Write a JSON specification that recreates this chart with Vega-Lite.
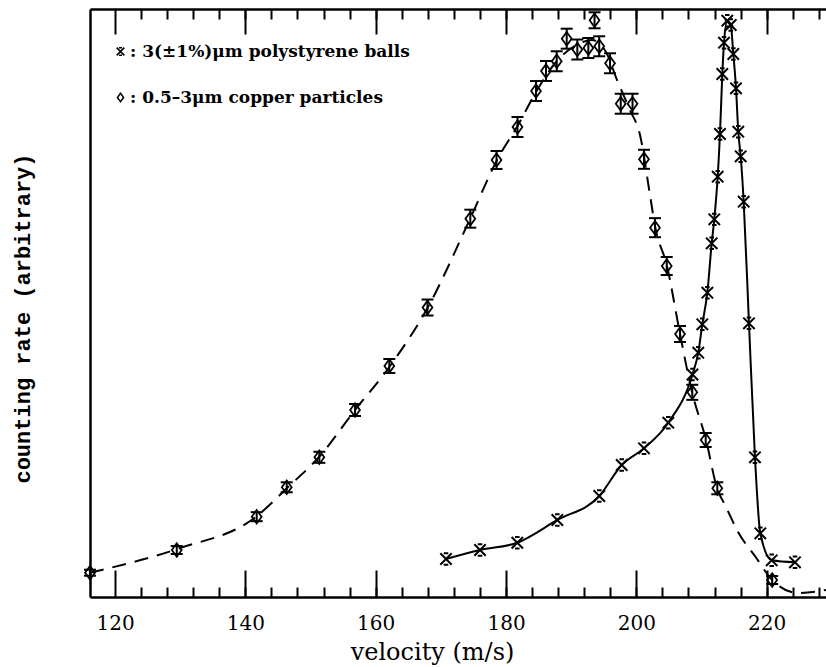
{
  "$schema": "https://vega.github.io/schema/vega-lite/v6.json",
  "width": 736,
  "height": 588,
  "autosize": {"type": "none"},
  "padding": {"left": 90, "top": 9, "right": 0, "bottom": 70},
  "background": "white",
  "config": {
    "view": {"stroke": null},
    "axis": {"grid": false, "domainColor": "black", "tickColor": "black", "labelColor": "black", "titleColor": "black", "domainWidth": 2.5, "tickWidth": 2},
    "axisY": {"orient": "left", "ticks": false, "labels": false, "domain": true,
      "titleFont": "Liberation Mono", "titleFontSize": 22, "titleFontWeight": "bold", "titlePadding": 56, "titleY": 309}
  },
  "datasets": {
    "copper": [
      {"v": 116.16, "y": 4.13, "lo": 3.62, "hi": 4.64},
      {"v": 129.47, "y": 7.99, "lo": 7.31, "hi": 8.67},
      {"v": 141.74, "y": 13.66, "lo": 12.89, "hi": 14.43},
      {"v": 146.35, "y": 18.66, "lo": 17.81, "hi": 19.51},
      {"v": 151.35, "y": 23.76, "lo": 22.82, "hi": 24.70},
      {"v": 156.83, "y": 31.80, "lo": 30.78, "hi": 32.82},
      {"v": 162.09, "y": 39.29, "lo": 38.10, "hi": 40.48},
      {"v": 167.95, "y": 49.23, "lo": 47.87, "hi": 50.59},
      {"v": 174.52, "y": 64.34, "lo": 62.81, "hi": 65.87},
      {"v": 178.54, "y": 74.32, "lo": 72.79, "hi": 75.85},
      {"v": 181.76, "y": 79.93, "lo": 78.23, "hi": 81.63},
      {"v": 184.60, "y": 86.05, "lo": 84.35, "hi": 87.75},
      {"v": 186.13, "y": 89.46, "lo": 87.76, "hi": 91.16},
      {"v": 187.78, "y": 91.11, "lo": 89.41, "hi": 92.81},
      {"v": 189.31, "y": 94.95, "lo": 93.25, "hi": 96.65},
      {"v": 190.94, "y": 93.11, "lo": 91.41, "hi": 94.81},
      {"v": 192.63, "y": 93.37, "lo": 91.67, "hi": 95.07},
      {"v": 193.58, "y": 98.08, "lo": 96.72, "hi": 99.44},
      {"v": 194.30, "y": 93.66, "lo": 91.96, "hi": 95.36},
      {"v": 195.96, "y": 90.77, "lo": 89.07, "hi": 92.47},
      {"v": 197.60, "y": 83.89, "lo": 82.19, "hi": 85.59},
      {"v": 199.41, "y": 83.89, "lo": 82.19, "hi": 85.59},
      {"v": 201.17, "y": 74.44, "lo": 72.82, "hi": 76.06},
      {"v": 202.86, "y": 62.81, "lo": 61.19, "hi": 64.43},
      {"v": 204.66, "y": 56.29, "lo": 54.76, "hi": 57.82},
      {"v": 206.70, "y": 44.73, "lo": 43.37, "hi": 46.09},
      {"v": 208.58, "y": 34.81, "lo": 33.53, "hi": 36.09},
      {"v": 210.64, "y": 26.70, "lo": 25.51, "hi": 27.89},
      {"v": 212.42, "y": 18.49, "lo": 17.47, "hi": 19.51},
      {"v": 220.84, "y": 2.89, "lo": 2.21, "hi": 3.57}
    ],
    "copperCurve": [
      {"v": 116.16, "y": 4.13},
      {"v": 129.51, "y": 8.16},
      {"v": 141.79, "y": 13.78},
      {"v": 146.39, "y": 18.54},
      {"v": 151.30, "y": 23.81},
      {"v": 156.83, "y": 31.80},
      {"v": 162.20, "y": 39.29},
      {"v": 168.03, "y": 49.32},
      {"v": 174.47, "y": 64.29},
      {"v": 178.62, "y": 74.32},
      {"v": 181.84, "y": 80.27},
      {"v": 184.60, "y": 85.88},
      {"v": 187.67, "y": 90.99},
      {"v": 190.58, "y": 93.71},
      {"v": 193.19, "y": 94.73},
      {"v": 195.34, "y": 92.69},
      {"v": 197.03, "y": 87.93},
      {"v": 199.02, "y": 82.82},
      {"v": 200.56, "y": 78.57},
      {"v": 202.09, "y": 68.37},
      {"v": 202.86, "y": 63.10},
      {"v": 204.70, "y": 56.29},
      {"v": 206.70, "y": 44.73},
      {"v": 208.54, "y": 34.86},
      {"v": 210.69, "y": 26.70},
      {"v": 212.37, "y": 18.54},
      {"v": 213.76, "y": 15.31},
      {"v": 215.60, "y": 11.05},
      {"v": 218.20, "y": 6.97},
      {"v": 220.84, "y": 2.89},
      {"v": 224.80, "y": 0.68},
      {"v": 229.09, "y": 1.19}
    ],
    "poly": [
      {"v": 170.79, "y": 6.46},
      {"v": 176.01, "y": 7.99},
      {"v": 181.73, "y": 9.23},
      {"v": 187.87, "y": 13.10},
      {"v": 194.31, "y": 17.18},
      {"v": 197.75, "y": 22.45},
      {"v": 201.17, "y": 25.29},
      {"v": 204.90, "y": 29.64},
      {"v": 208.61, "y": 37.84},
      {"v": 209.50, "y": 41.55},
      {"v": 210.12, "y": 46.38},
      {"v": 210.89, "y": 51.75},
      {"v": 211.56, "y": 60.15},
      {"v": 211.96, "y": 64.23},
      {"v": 212.48, "y": 71.48},
      {"v": 212.83, "y": 78.74},
      {"v": 213.19, "y": 88.95},
      {"v": 213.45, "y": 94.27},
      {"v": 213.95, "y": 98.01},
      {"v": 214.48, "y": 97.28},
      {"v": 214.88, "y": 92.35},
      {"v": 215.29, "y": 86.51},
      {"v": 215.64, "y": 79.13},
      {"v": 216.01, "y": 74.95},
      {"v": 216.47, "y": 67.23},
      {"v": 217.28, "y": 46.55},
      {"v": 218.20, "y": 23.76},
      {"v": 219.02, "y": 10.83},
      {"v": 220.77, "y": 6.24},
      {"v": 224.34, "y": 5.90}
    ]
  },
  "resolve": {"axis": {"x": "independent"}},
  "layer": [
    {
      "data": {"name": "copperCurve"},
      "mark": {"type": "line", "color": "black", "strokeWidth": 2, "strokeDash": [14, 9], "interpolate": "monotone"},
      "encoding": {
        "x": {"field": "v", "type": "quantitative", "scale": {"domain": [116.16, 229.1], "nice": false, "zero": false},
          "axis": {"orient": "bottom", "values": [120, 140, 160, 180, 200, 220], "ticks": false, "domain": true, "labels": true,
            "labelFont": "DejaVu Serif", "labelFontSize": 20, "labelBaseline": "alphabetic", "labelPadding": 32,
            "title": "velocity (m/s)", "titleFont": "DejaVu Serif", "titleFontSize": 24, "titleFontWeight": "normal",
            "titleBaseline": "alphabetic", "titleX": 342, "titleY": 62}},
        "y": {"field": "y", "type": "quantitative", "scale": {"domain": [0, 100], "nice": false},
          "axis": {"title": "counting rate (arbitrary)"}}
      }
    },
    {
      "data": {"name": "copper"},
      "mark": {"type": "rule", "color": "black", "strokeWidth": 2},
      "encoding": {
        "x": {"field": "v", "type": "quantitative", "scale": {"domain": [116.16, 229.1], "nice": false, "zero": false},
          "axis": {"orient": "bottom", "values": [120, 140, 160, 180, 200, 220], "ticks": true, "tickSize": -27, "labels": false, "domain": false, "title": null}},
        "y": {"field": "lo", "type": "quantitative", "axis": {"title": "counting rate (arbitrary)"}},
        "y2": {"field": "hi"}
      }
    },
    {
      "data": {"name": "copper"},
      "mark": {"type": "tick", "color": "black", "orient": "horizontal", "size": 12, "thickness": 2, "opacity": 1},
      "encoding": {
        "x": {"field": "v", "type": "quantitative", "scale": {"domain": [116.16, 229.1], "nice": false, "zero": false},
          "axis": {"orient": "bottom", "values": [124, 128, 132, 136, 140, 144, 148, 152, 156, 160, 164, 168, 172, 176, 180, 184, 188, 192, 196, 200, 204, 208, 212, 216, 220, 224, 228], "ticks": true, "tickSize": -10, "labels": false, "domain": false, "title": null}},
        "y": {"field": "lo", "type": "quantitative", "axis": {"title": "counting rate (arbitrary)"}}
      }
    },
    {
      "data": {"name": "copper"},
      "mark": {"type": "tick", "color": "black", "orient": "horizontal", "size": 12, "thickness": 2, "opacity": 1},
      "encoding": {
        "x": {"field": "v", "type": "quantitative", "scale": {"domain": [116.16, 229.1], "nice": false, "zero": false},
          "axis": {"orient": "top", "values": [120, 140, 160, 180, 200, 220], "ticks": true, "tickSize": -25, "labels": false, "domain": false, "title": null}},
        "y": {"field": "hi", "type": "quantitative", "axis": {"title": "counting rate (arbitrary)"}}
      }
    },
    {
      "data": {"name": "copper"},
      "mark": {"type": "point", "filled": false, "color": "black", "strokeWidth": 1.8, "size": 150, "opacity": 1},
      "encoding": {
        "x": {"field": "v", "type": "quantitative", "scale": {"domain": [116.16, 229.1], "nice": false, "zero": false},
          "axis": {"orient": "top", "values": [124, 128, 132, 136, 140, 144, 148, 152, 156, 160, 164, 168, 172, 176, 180, 184, 188, 192, 196, 200, 204, 208, 212, 216, 220, 224, 228], "ticks": true, "tickSize": -10, "labels": false, "domain": true, "title": null}},
        "y": {"field": "y", "type": "quantitative", "axis": {"title": "counting rate (arbitrary)"}},
        "shape": {"datum": "0.5–3μm copper particles", "type": "nominal",
          "scale": {"domain": ["3(±1%)μm polystyrene balls", "0.5–3μm copper particles"], "range": ["M-1,-1L1,1M-1,1L1,-1M-0.4,-1L0.4,-1M-0.4,1L0.4,1", "M0,-1.1L0.8,0L0,1.1L-0.8,0Z"]},
          "legend": {"title": null, "orient": "none", "legendX": 22, "legendY": 34, "padding": 0, "labelExpr": "': ' + datum.label",
            "labelFont": "DejaVu Serif", "labelFontSize": 17, "labelFontWeight": "bold", "labelColor": "black", "labelOffset": 1, "labelLimit": 0,
            "symbolStrokeColor": "black", "symbolFillColor": "white", "symbolStrokeWidth": 1.5, "symbolSize": 60, "rowPadding": 28}}
      }
    },
    {
      "data": {"name": "poly"},
      "mark": {"type": "line", "color": "black", "strokeWidth": 2, "interpolate": "monotone"},
      "encoding": {
        "x": {"field": "v", "type": "quantitative", "scale": {"domain": [116.16, 229.1], "nice": false, "zero": false}, "axis": null},
        "y": {"field": "y", "type": "quantitative", "axis": {"title": "counting rate (arbitrary)"}}
      }
    },
    {
      "data": {"name": "poly"},
      "mark": {"type": "point", "filled": false, "color": "black", "strokeWidth": 2, "size": 130, "opacity": 1},
      "encoding": {
        "x": {"field": "v", "type": "quantitative", "scale": {"domain": [116.16, 229.1], "nice": false, "zero": false}, "axis": null},
        "y": {"field": "y", "type": "quantitative", "axis": {"title": "counting rate (arbitrary)"}},
        "shape": {"datum": "3(±1%)μm polystyrene balls", "type": "nominal",
          "legend": {"title": null, "orient": "none", "legendX": 22, "legendY": 34, "padding": 0, "labelExpr": "': ' + datum.label",
            "labelFont": "DejaVu Serif", "labelFontSize": 17, "labelFontWeight": "bold", "labelColor": "black", "labelOffset": 1, "labelLimit": 0,
            "symbolStrokeColor": "black", "symbolFillColor": "white", "symbolStrokeWidth": 1.5, "symbolSize": 60, "rowPadding": 28}}
      }
    }
  ]
}
